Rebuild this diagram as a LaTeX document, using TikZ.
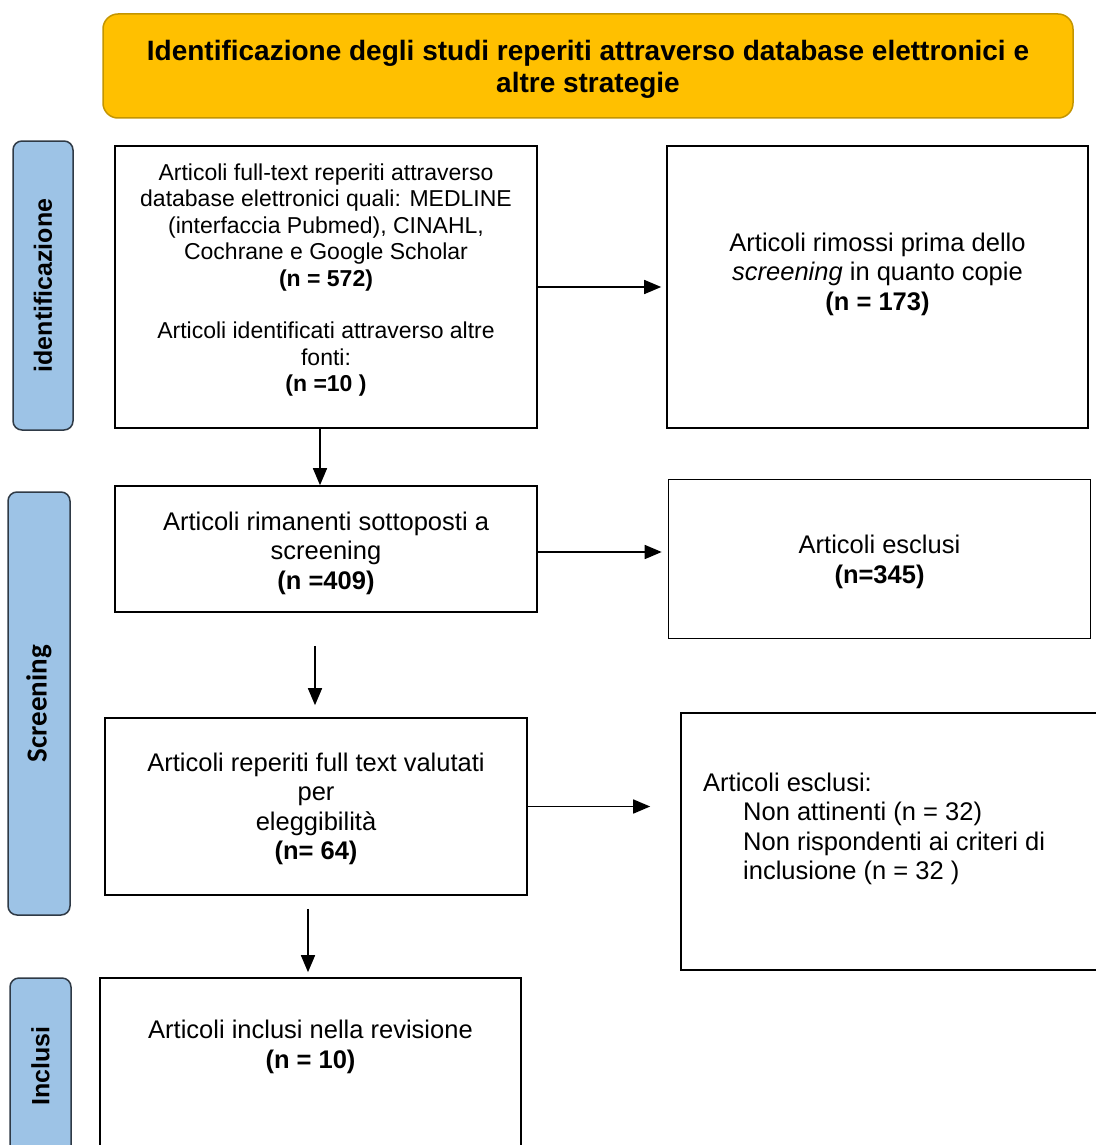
\documentclass[tikz,border=0pt]{standalone}
\usepackage{fontspec}
\setmainfont{Liberation Sans}
\newfontfamily\calibrifont{Carlito}
\usepackage{xcolor}
\usetikzlibrary{arrows.meta}
\definecolor{headgold}{HTML}{FFC000}
\definecolor{headedge}{HTML}{C49500}
\definecolor{phaseblue}{HTML}{9DC3E6}
\definecolor{phaseedge}{HTML}{2F3A46}

\begin{document}
\begin{tikzpicture}[x=1pt,y=-1pt,
    box/.style={draw, line width=1.6pt, inner sep=0pt},
    phase/.style={draw=phaseedge, fill=phaseblue, line width=1.5pt,
        rounded corners=9pt, inner sep=0pt},
    phasetxt/.style={rotate=90, inner sep=0pt,
        font=\bfseries\fontsize{25}{30}\selectfont},
    txt/.style={align=center, inner sep=0pt,
        font=\fontsize{25.5}{29.5}\selectfont},
    arr/.style={line width=1.6pt, -{Triangle[length=17pt,width=14pt]}}]
    \useasboundingbox (0,0) rectangle (1095,1145);

    \node[draw=headedge, fill=headgold, line width=1.5pt, rounded corners=15pt,
        minimum width=970pt, minimum height=104pt] (title) at (588,66) {};
    \node[align=center, font=\bfseries\fontsize{28}{32}\selectfont] (titletxt) at (588,69)
        {Identificazione degli studi reperiti attraverso database elettronici e\\ altre strategie};

    \node[phase, minimum width=60pt, minimum height=289pt] (phaseid) at (43,285.5) {};
    \node[phasetxt] (phaseidtxt) at (phaseid) {identificazione};
    \node[phase, minimum width=62pt, minimum height=423pt] (phasescr) at (39,703.5) {};
    \node[phasetxt, font=\calibrifont\bfseries\fontsize{29}{30}\selectfont] (phasescrtxt) at (phasescr) {Screening};
    \node[phase, minimum width=61pt, minimum height=190pt] (phaseinc) at (40.5,1073) {};
    \node[phasetxt] (phaseinctxt) at (40.5,1066) {Inclusi};

    \node[box, minimum width=422pt, minimum height=282pt] (found) at (326,287) {};
    \node[txt, font=\fontsize{23}{26.5}\selectfont] (foundtxt) at (326,280)
        {Articoli full-text reperiti attraverso\\ database elettronici quali: MEDLINE\\
        (interfaccia Pubmed), CINAHL,\\ Cochrane e Google Scholar\\ \textbf{(n = 572)}\\[26pt]
        Articoli identificati attraverso altre\\ fonti:\\ \textbf{(n =10 )}};

    \node[box, minimum width=421pt, minimum height=282pt] (dupl) at (877.5,287) {};
    \node[txt] (dupltxt) at (877.5,274)
        {Articoli rimossi prima dello\\ \textit{screening} in quanto copie\\ \textbf{(n = 173)}};

    \node[box, minimum width=422pt, minimum height=126pt] (screened) at (326,549) {};
    \node[txt] (screenedtxt) at (326,553)
        {Articoli rimanenti sottoposti a\\ screening\\ \textbf{(n =409)}};

    \node[box, minimum width=422pt, minimum height=159pt] (excl) at (879.5,559) {};
    \node[txt] (excltxt) at (879.5,562) {Articoli esclusi\\ \textbf{(n=345)}};

    \node[box, minimum width=422pt, minimum height=177pt] (fulltext) at (316,806.5) {};
    \node[txt] (fulltexttxt) at (316,809)
        {Articoli reperiti full text valutati\\ per\\ eleggibilità\\ \textbf{(n= 64)}};

    \node[box, minimum width=420pt, minimum height=257pt] (exclft) at (891,841.5) {};
    \node[txt, align=left, anchor=west] (exclfttxt) at (703,829)
        {Articoli esclusi:\\ \hspace*{40pt}Non attinenti (n = 32)\\
        \hspace*{40pt}Non rispondenti ai criteri di\\ \hspace*{40pt}inclusione (n = 32 )};

    \node[box, minimum width=421pt, minimum height=170pt] (included) at (310.5,1063) {};
    \node[txt] (includedtxt) at (310.5,1047)
        {Articoli inclusi nella revisione\\ \textbf{(n = 10)}};

    \draw[arr, shorten >=5pt] (found.east) -- (dupl.west);
    \draw[arr] ([xshift=-6pt]found.south) -- ([xshift=-6pt]found.south |- screened.north);
    \draw[arr, shorten >=6pt] ([yshift=-3pt]screened.east) -- ([yshift=-3pt]screened.east -| excl.west);
    \draw[arr, shorten <=33pt, shorten >=12pt] ([xshift=-11pt]screened.south) -- ([xshift=-11pt]screened.south |- fulltext.north);
    \draw[arr, shorten >=30pt] (fulltext.east) -- (fulltext.east -| exclft.west);
    \draw[arr, shorten <=13pt, shorten >=5pt] ([xshift=-8pt]fulltext.south) -- ([xshift=-8pt]fulltext.south |- included.north);
\end{tikzpicture}
\end{document}
